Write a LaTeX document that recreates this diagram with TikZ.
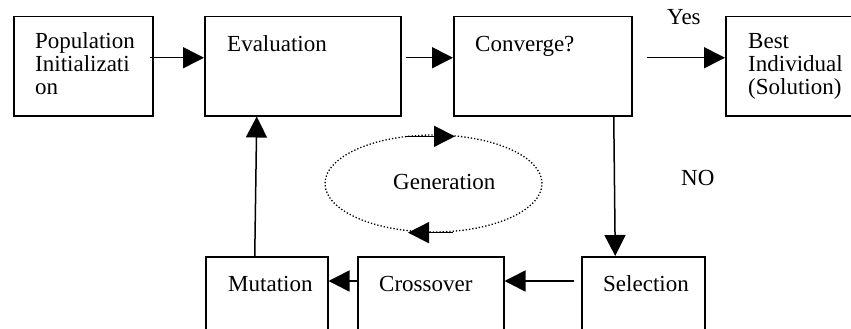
\documentclass[tikz,border=0pt]{standalone}
\usepackage{fontspec}
\setmainfont{Liberation Serif}
\usetikzlibrary{arrows.meta,shapes.geometric}
\begin{document}
\begin{tikzpicture}[x=1pt,y=-1pt,
  box/.style={draw,line width=1.5pt,rectangle,inner sep=0pt,anchor=north west},
  txt/.style={inner sep=0pt,font=\fontsize{23}{23}\selectfont,align=left},
  arr/.style={line width=1.5pt,-{Triangle[length=21pt,width=21pt]}},
  gstyle/.style={draw,dotted,line width=1.3pt,ellipse,inner sep=0pt,minimum width=217pt,minimum height=97pt}]
\useasboundingbox (0,0) rectangle (851,329);
\clip (0,0) rectangle (851,329);
% boxes
\node[box,minimum width=139pt,minimum height=99pt] (pop) at (13,16) {};
\node[box,minimum width=196pt,minimum height=99pt] (eval) at (204,16) {};
\node[box,minimum width=178pt,minimum height=99pt] (conv) at (453,16) {};
\node[box,minimum width=160pt,minimum height=99pt] (best) at (725,16) {};
\node[box,minimum width=122pt,minimum height=110pt] (mut) at (205,256) {};
\node[box,minimum width=146pt,minimum height=110pt] (cross) at (357,256) {};
\node[box,minimum width=123pt,minimum height=110pt] (sel) at (581,256) {};
% texts
\node[txt,anchor=base west] (poptxt) at (35,94) {Population\\Initializati\\on};
\node[txt,anchor=base west] (evaltxt) at (227,52) {Evaluation};
\node[txt,anchor=base west] (convtxt) at (475,52) {Converge?};
\node[txt,anchor=base west] (besttxt) at (748,94) {Best\\Individual\\(Solution)};
\node[txt,anchor=base west] (muttxt) at (228,291) {Mutation};
\node[txt,anchor=base west] (crosstxt) at (379,291) {Crossover};
\node[txt,anchor=base west] (seltxt) at (603,291) {Selection};
\node[txt,anchor=base west] (yes) at (667,25) {Yes};
\node[txt,anchor=base west] (no) at (681,185) {NO};
% generation ellipse
\node[gstyle] (gen) at (433.5,183.5) {};
\node[txt,anchor=base west] (gentxt) at (393,189) {Generation};
% connectors
\draw[arr] ([xshift=-4pt,yshift=8.5pt]pop.east) -- ([yshift=8.5pt]eval.west);
\draw[arr] ([xshift=4pt,yshift=8.5pt]eval.east) -- ([yshift=8.5pt]conv.west);
\draw[arr] ([xshift=14pt,yshift=8.5pt]conv.east) -- ([yshift=8.5pt]best.west);
\draw[arr] ([xshift=-12pt]mut.north) -- ([xshift=-46pt]eval.south);
\draw[arr] ([xshift=71pt]conv.south) -- ([xshift=-28pt]sel.north);
\draw[arr] ([xshift=-7pt,yshift=-25pt]sel.north west) -- ([yshift=-25pt]cross.north east);
\draw[arr] ([yshift=-25pt]cross.north west) -- ([yshift=-25pt]mut.north east);
\draw[arr] ([xshift=-28.5pt,yshift=-2pt]gen.north) -- ([xshift=21.5pt,yshift=-2pt]gen.north);
\draw[arr] ([xshift=19.5pt]gen.south) -- ([xshift=-25.5pt]gen.south);
\end{tikzpicture}
\end{document}
